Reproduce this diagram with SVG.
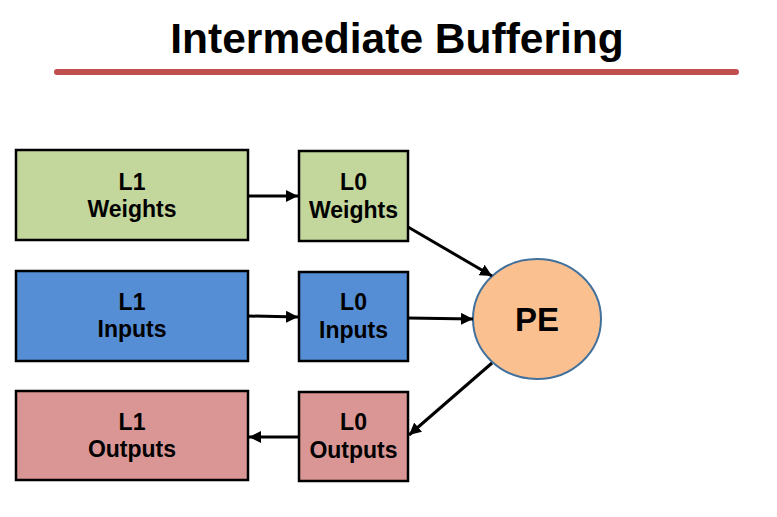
<svg xmlns="http://www.w3.org/2000/svg" width="777" height="517" viewBox="0 0 777 517">
<style>
.box{stroke:#000;stroke-width:2.5}
.lbl{font-family:"Liberation Sans",Arial,sans-serif;font-weight:bold;font-size:23px;text-anchor:middle;fill:#000}
.conn{stroke:#000;stroke-width:3;fill:none}
</style>
<defs>
<marker id="ah" viewBox="0 0 10 10" refX="10" refY="5" markerWidth="4" markerHeight="4" orient="auto" markerUnits="strokeWidth">
<path d="M0,0 L10,5 L0,10 z" fill="#000"/>
</marker>
</defs>
<rect width="777" height="517" fill="#fff"/>
<text x="397" y="53" font-family="'Liberation Sans',Arial,sans-serif" font-weight="bold" font-size="42.5" text-anchor="middle">Intermediate Buffering</text>
<line x1="57" y1="72" x2="736" y2="72" stroke="#C0504D" stroke-width="6" stroke-linecap="round"/>
<g id="l1w"><rect class="box" x="16" y="150" width="232" height="90" fill="#C3D69B"/><text class="lbl" x="132" y="190">L1</text><text class="lbl" x="132" y="217">Weights</text></g>
<g id="l0w"><rect class="box" x="299" y="151" width="109" height="90" fill="#C3D69B"/><text class="lbl" x="353.5" y="190">L0</text><text class="lbl" x="353.5" y="218">Weights</text></g>
<g id="l1i"><rect class="box" x="16" y="271" width="232" height="90" fill="#558ED5"/><text class="lbl" x="132" y="310">L1</text><text class="lbl" x="132" y="337">Inputs</text></g>
<g id="l0i"><rect class="box" x="299" y="272" width="109" height="89" fill="#558ED5"/><text class="lbl" x="353.5" y="310">L0</text><text class="lbl" x="353.5" y="338">Inputs</text></g>
<g id="l1o"><rect class="box" x="16" y="391" width="232" height="89" fill="#D99694"/><text class="lbl" x="132" y="430">L1</text><text class="lbl" x="132" y="457">Outputs</text></g>
<g id="l0o"><rect class="box" x="299" y="392" width="109" height="89" fill="#D99694"/><text class="lbl" x="353.5" y="430">L0</text><text class="lbl" x="353.5" y="458">Outputs</text></g>
<g id="pe"><ellipse cx="537" cy="319" rx="64" ry="60" fill="#FAC090" stroke="#41719C" stroke-width="2"/><text x="537" y="331" font-family="'Liberation Sans',Arial,sans-serif" font-weight="bold" font-size="33" text-anchor="middle">PE</text></g>
<g id="connectors">
<line class="conn" x1="248" y1="196" x2="298" y2="196" marker-end="url(#ah)"/>
<line class="conn" x1="248" y1="316" x2="298" y2="317" marker-end="url(#ah)"/>
<line class="conn" x1="408" y1="227" x2="492" y2="276" marker-end="url(#ah)"/>
<line class="conn" x1="408" y1="318" x2="473" y2="319" marker-end="url(#ah)"/>
<line class="conn" x1="492" y1="363" x2="409" y2="435" marker-end="url(#ah)"/>
<line class="conn" x1="299" y1="437" x2="249" y2="437" marker-end="url(#ah)"/>
</g>
</svg>
